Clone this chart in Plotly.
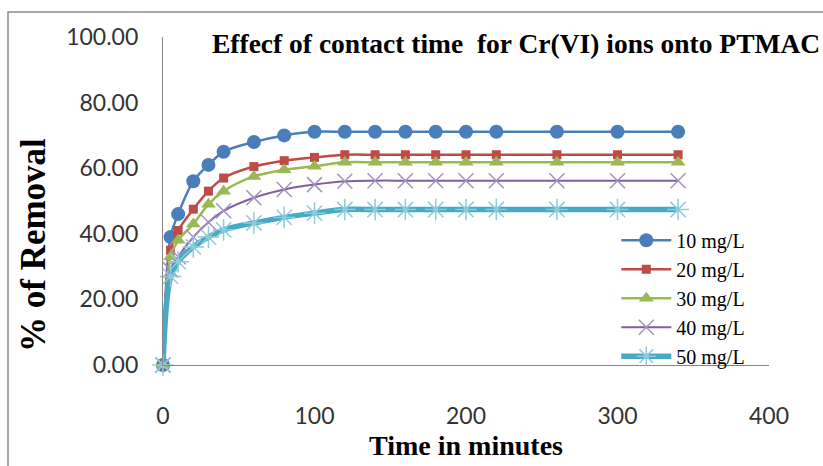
import plotly.graph_objects as go

# ---- data ----
time_min = [0, 5, 10, 20, 30, 40, 60, 80, 100, 120, 140, 160, 180, 200, 220, 260, 300, 340]
c10 = [0, 39, 46, 56, 61, 65, 68, 70, 71.1, 71.1, 71.1, 71.1, 71.1, 71.1, 71.1, 71.1, 71.1, 71.1]
c20 = [0, 35, 41, 47.5, 53, 57, 60.5, 62.3, 63.3, 64.1, 64.1, 64.1, 64.1, 64.1, 64.1, 64.1, 64.1, 64.1]
c30 = [0, 33, 38, 43, 49, 53, 57.5, 59.5, 60.6, 61.8, 61.8, 61.8, 61.8, 61.8, 61.8, 61.8, 61.8, 61.8]
c40 = [0, 29, 33, 39, 43.5, 47, 51, 53.5, 55, 56, 56.2, 56.2, 56.2, 56.2, 56.2, 56.2, 56.2, 56.2]
c50 = [0, 27, 31.5, 36, 39, 41.2, 43.3, 45, 46.3, 47.4, 47.4, 47.4, 47.4, 47.4, 47.4, 47.4, 47.4, 47.4]
series_names = ["10 mg/L", "20 mg/L", "30 mg/L", "40 mg/L", "50 mg/L"]
x_ticks = [0, 100, 200, 300, 400]
y_ticks = [0, 20, 40, 60, 80, 100]

title_text = "Effecf of contact time\u00a0\u00a0for Cr(VI) ions onto PTMAC"

SERIF = "Liberation Serif"
SANS = "Lato"

styles = [
    dict(color="#4A7EBB", lw=2.5, marker=dict(symbol="circle", size=14, color="#4A7EBB")),
    dict(color="#BE4B48", lw=2.5, marker=dict(symbol="square", size=9, color="#BE4B48")),
    dict(color="#98B954", lw=2.5, marker=dict(symbol="triangle-up", size=13, color="#98B954")),
    dict(color="#7D60A0", lw=2, marker=dict(symbol="x-thin-open", size=15, color="#A592C4",
                                             line=dict(width=1.5, color="#A592C4"))),
    dict(color="#46AAC5", lw=5.5, marker=dict(symbol="asterisk-open", size=18, color="#8FCBDB",
                                               line=dict(width=1.5, color="#8FCBDB"))),
]

fig = go.Figure()
for name, ys, st in zip(series_names, [c10, c20, c30, c40, c50], styles):
    fig.add_trace(go.Scatter(
        x=time_min, y=ys, name=name, mode="lines+markers",
        line=dict(color=st["color"], width=st["lw"], shape="spline", smoothing=1),
        marker=st["marker"], cliponaxis=False,
    ))

fig.update_layout(
    width=823, height=466,
    margin=dict(l=163, r=54, t=37, b=101),
    paper_bgcolor="white", plot_bgcolor="white",
    title=dict(text=title_text, x=212 / 823, xanchor="left", y=1 - 43 / 466, yanchor="middle",
               font=dict(family=SERIF, size=27.5, color="black", weight="bold")),
    legend=dict(x=0.748, y=0.44, xanchor="left", yanchor="top",
                bgcolor="rgba(0,0,0,0)", borderwidth=0,
                font=dict(family=SERIF, size=20, color="black"),
                itemwidth=50, tracegroupgap=0),
    showlegend=True,
)
fig.update_xaxes(range=[0, 400], tickvals=x_ticks, ticks="", showgrid=False, zeroline=False,
                 showline=True, linecolor="#868686", linewidth=1.2,
                 tickfont=dict(family=SANS, size=23, color="#333333"),
                 ticklabelstandoff=30,
                 title=dict(text="Time in minutes", standoff=7,
                            font=dict(family=SERIF, size=28, color="black", weight="bold")))
fig.update_yaxes(range=[0, 100], tickvals=y_ticks, tickformat=".2f", ticks="", showgrid=False,
                 zeroline=False, showline=True, linecolor="#868686", linewidth=1.2,
                 tickfont=dict(family=SANS, size=23, color="#333333"),
                 ticklabelstandoff=19)

fig.add_annotation(text="% of Removal", xref="paper", yref="paper",
                   x=(33 - 163) / 606, y=(365 - 245) / 328, textangle=-90,
                   showarrow=False, xanchor="center", yanchor="middle",
                   font=dict(family=SERIF, size=35, color="black", weight="bold"))

# chart-area frame (left and top edges visible)
fig.add_shape(type="rect", xref="paper", yref="paper",
              x0=(8 - 163) / 606, x1=1.3, y0=-0.6, y1=(365 - 12) / 328,
              line=dict(color="#8c8c8c", width=1.5), fillcolor="rgba(0,0,0,0)", layer="below")

fig.write_html("out.html")
